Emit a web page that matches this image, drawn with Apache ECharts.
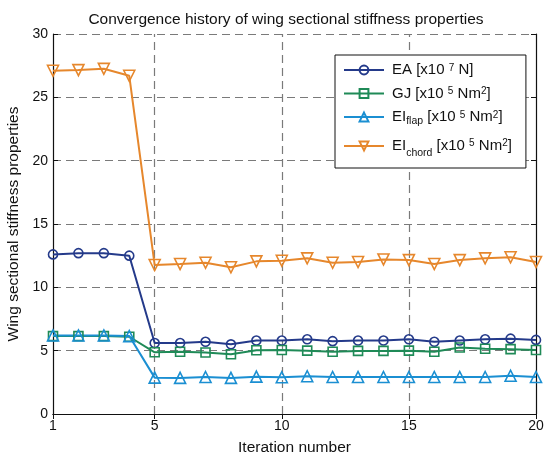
<!DOCTYPE html>
<html>
<head>
<meta charset="utf-8">
<script src="https://cdn.jsdelivr.net/npm/echarts@6/dist/echarts.min.js"></script>
<style>
  html, body { margin: 0; padding: 0; background: #fff; }
  #chart { width: 544px; height: 457px; }
</style>
</head>
<body>
<div id="chart"></div>
<script>
// Iteration numbers
const iterations = [1, 2, 3, 4, 5, 6, 7, 8, 9, 10, 11, 12, 13, 14, 15, 16, 17, 18, 19, 20];

// Stiffness properties per iteration
const eaValues = [12.6, 12.7, 12.7, 12.5, 5.6, 5.6, 5.7, 5.5, 5.8, 5.8, 5.9, 5.75, 5.8, 5.8, 5.9, 5.7, 5.8, 5.9, 5.95, 5.85];
const gjValues = [6.15, 6.15, 6.15, 6.1, 4.87, 4.92, 4.85, 4.72, 5.03, 5.05, 5.0, 4.92, 4.98, 4.98, 5.0, 4.92, 5.25, 5.15, 5.12, 5.05];
const eiFlapValues = [6.2, 6.2, 6.2, 6.15, 2.87, 2.85, 2.92, 2.85, 2.95, 2.9, 2.98, 2.92, 2.92, 2.92, 2.92, 2.92, 2.92, 2.92, 3.02, 2.92];
const eiChordValues = [27.1, 27.15, 27.25, 26.7, 11.76, 11.84, 11.94, 11.58, 12.05, 12.1, 12.29, 11.94, 12.0, 12.2, 12.15, 11.84, 12.15, 12.29, 12.37, 12.0];

// Axis ticks
const xTicks = [1, 5, 10, 15, 20];

const seriesNames = ['EA', 'GJ', 'EIflap', 'EIchord'];
const legendLabels = {
  EA: '{f|EA [x10 }{sp|7}{b| N]}',
  GJ: '{f|GJ [x10 }{sp|5}{b| Nm}{sp|2}{b|]}',
  EIflap: '{f|EI}{sb|flap}{b| [x10 }{sp|5}{b| Nm}{sp|2}{b|]}',
  EIchord: '{f4|EI}{sc|chord}{b4| [x10 }{sp4|5}{b4| Nm}{sp4|2}{b4|]}'
};

const FONT = 'Liberation Sans, Arial, sans-serif';
const colors = ['#243a8a', '#1f8a57', '#1b8fd2', '#e6872c'];

function pairs(vals) {
  return iterations.map((it, i) => [it, vals[i]]);
}

function lineSeries(name, vals, color, symbol, size, rotate) {
  return {
    name: name,
    type: 'line',
    data: pairs(vals),
    symbol: symbol,
    symbolSize: size,
    symbolRotate: rotate || 0,
    showAllSymbol: true,
    lineStyle: { color: color, width: 2 },
    itemStyle: { color: 'rgba(255,255,255,0)', borderColor: color, borderWidth: 1.6 },
    emphasis: { disabled: true },
    z: 3
  };
}

const chart = echarts.init(document.getElementById('chart'), null, { renderer: 'canvas' });

const gridLine = { color: '#7a7a7a', type: [8, 5], width: 1.2 };
const base = { fontFamily: FONT, fontSize: 15, color: '#111' };
const small = { fontFamily: FONT, fontSize: 10, color: '#111' };

chart.setOption({
  animation: false,
  backgroundColor: '#fff',
  color: colors,
  title: {
    text: 'Convergence history of wing sectional stiffness properties',
    left: 281, top: 7, textAlign: 'center',
    textStyle: { fontFamily: FONT, fontSize: 15.5, fontWeight: 'normal', color: '#111' }
  },
  grid: { left: 53, right: 8, top: 34, bottom: 43, containLabel: false, outerBoundsMode: 'none' },
  legend: {
    orient: 'vertical',
    left: 335, top: 55,
    z: 20,
    padding: [5, 14, 9, 8],
    itemGap: 6,
    itemWidth: 40, itemHeight: 11,
    backgroundColor: '#fff',
    borderColor: '#111', borderWidth: 1,
    data: seriesNames,
    formatter: name => legendLabels[name],
    textStyle: {
      fontFamily: FONT, color: '#111',
      rich: {
        f: Object.assign({}, base, { lineHeight: 20, padding: [0, 0, 0, 3] }),
        b: Object.assign({}, base, { lineHeight: 20 }),
        f4: Object.assign({}, base, { lineHeight: 26, padding: [0, 0, 0, 3] }),
        b4: Object.assign({}, base, { lineHeight: 26 }),
        sp: Object.assign({}, small, { lineHeight: 10, verticalAlign: 'top', padding: [3, 0, 0, 0] }),
        sp4: Object.assign({}, small, { lineHeight: 10, verticalAlign: 'top', padding: [5, 0, 0, 0] }),
        sb: Object.assign({}, small, { fontSize: 10.5, lineHeight: 10, verticalAlign: 'bottom' }),
        sc: Object.assign({}, small, { fontSize: 10.5, lineHeight: 12, verticalAlign: 'bottom' })
      }
    }
  },
  xAxis: [{
    type: 'value', min: 1, max: 20,
    name: 'Iteration number', nameLocation: 'middle', nameGap: 26,
    nameTextStyle: { fontFamily: FONT, fontSize: 15.5, color: '#111' },
    axisLine: { show: true, lineStyle: { color: '#111', width: 1.2 } },
    axisTick: { show: true, inside: true, length: 5, customValues: xTicks, lineStyle: { color: '#111' } },
    axisLabel: { customValues: xTicks, fontFamily: FONT, fontSize: 14, color: '#111', margin: 5 },
    splitLine: { show: false }
  }, {
    type: 'value', min: 1, max: 20, position: 'top',
    axisLine: { show: true, lineStyle: { color: '#111', width: 1.2 } },
    axisTick: { show: true, inside: true, length: 5, customValues: xTicks, lineStyle: { color: '#111' } },
    axisLabel: { show: false },
    splitLine: { show: false }
  }],
  yAxis: [{
    type: 'value', min: 0, max: 30, interval: 5,
    name: 'Wing sectional stiffness properties', nameLocation: 'middle', nameGap: 29,
    nameTextStyle: { fontFamily: FONT, fontSize: 15.5, color: '#111' },
    axisLine: { show: true, lineStyle: { color: '#111', width: 1.2 } },
    axisTick: { show: true, inside: true, length: 5, lineStyle: { color: '#111' } },
    axisLabel: { fontFamily: FONT, fontSize: 14, color: '#111', margin: 5 },
    splitLine: { show: true, lineStyle: gridLine }
  }, {
    type: 'value', min: 0, max: 30, interval: 5, position: 'right',
    axisLine: { show: true, lineStyle: { color: '#111', width: 1.2 } },
    axisTick: { show: true, inside: true, length: 5, lineStyle: { color: '#111' } },
    axisLabel: { show: false },
    splitLine: { show: false }
  }],
  series: [
    lineSeries('EA', eaValues, colors[0], 'circle', 9),
    lineSeries('GJ', gjValues, colors[1], 'rect', 9),
    lineSeries('EIflap', eiFlapValues, colors[2], 'triangle', 11),
    lineSeries('EIchord', eiChordValues, colors[3], 'triangle', 11, 180),
    {
      // vertical dashed grid lines at the labelled iterations
      name: 'vgrid', type: 'line', data: [], silent: true, z: 1,
      markLine: {
        symbol: 'none', silent: true, z: 1, label: { show: false },
        lineStyle: gridLine,
        data: xTicks.slice(1, -1).map(v => ({ xAxis: v }))
      }
    }
  ]
});
</script>
</body>
</html>
